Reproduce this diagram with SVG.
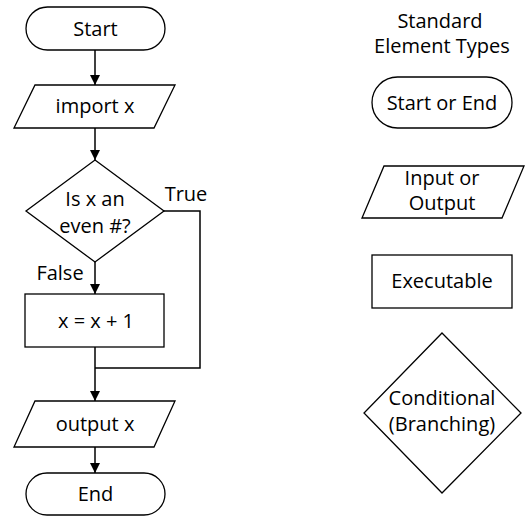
<svg xmlns="http://www.w3.org/2000/svg" width="525" height="516" viewBox="0 0 525 516">
<style>
.s{fill:#fff;stroke:#000;stroke-width:1.3}
.t{font-family:"Open Sans","Noto Sans",sans-serif;font-size:20px;fill:#000;text-anchor:middle}
.c{fill:none;stroke:#000;stroke-width:1.5}
</style>
<defs>
<marker id="ah" markerUnits="userSpaceOnUse" markerWidth="10" markerHeight="10" refX="10" refY="5" orient="auto" viewBox="0 0 10 10">
<path d="M0,0 L10,5 L0,10 z" fill="#000"/>
</marker>
</defs>
<rect width="525" height="516" fill="#fff"/>
<g id="connectors">
<path class="c" d="M95,50 V85" marker-end="url(#ah)"/>
<path class="c" d="M95,128 V160" marker-end="url(#ah)"/>
<path class="c" d="M95,262 V294" marker-end="url(#ah)"/>
<path class="c" d="M95,347 V401" marker-end="url(#ah)"/>
<path class="c" d="M164,211 H200 V368 H95"/>
<path class="c" d="M95,447 V473" marker-end="url(#ah)"/>
<text class="t" x="186" y="201">True</text>
<text class="t" x="60" y="280">False</text>
</g>
<g id="start">
<rect class="s" x="26" y="7" width="139" height="43" rx="21.5"/>
<text class="t" x="95.5" y="36">Start</text>
</g>
<g id="import">
<path class="s" d="M35,85 H175 L154,128 H14 z"/>
<text class="t" x="95" y="113">import x</text>
</g>
<g id="decision">
<path class="s" d="M95,160 L164,211 L95,262 L26,211 z"/>
<text class="t" x="95" y="206">Is x an</text>
<text class="t" x="95" y="233">even #?</text>
</g>
<g id="increment">
<rect class="s" x="25" y="294" width="139" height="53"/>
<text class="t" x="96" y="328">x = x + 1</text>
</g>
<g id="output">
<path class="s" d="M35,401 H175 L154,447 H14 z"/>
<text class="t" x="95" y="431">output x</text>
</g>
<g id="end">
<rect class="s" x="26" y="473" width="139" height="42" rx="21"/>
<text class="t" x="95.5" y="501">End</text>
</g>
<g id="legend-title">
<text class="t" x="440" y="28">Standard</text>
<text class="t" x="442" y="53">Element Types</text>
</g>
<g id="legend-terminal">
<rect class="s" x="372" y="77" width="140" height="51" rx="25.5"/>
<text class="t" x="442" y="110">Start or End</text>
</g>
<g id="legend-io">
<path class="s" d="M384,166 H524 L502,218 H362 z"/>
<text class="t" x="442" y="185">Input or</text>
<text class="t" x="442" y="210">Output</text>
</g>
<g id="legend-exec">
<rect class="s" x="372" y="255" width="140" height="53"/>
<text class="t" x="442" y="288">Executable</text>
</g>
<g id="legend-cond">
<path class="s" d="M442,333 L521,413 L442,493 L364,413 z"/>
<text class="t" x="442" y="405">Conditional</text>
<text class="t" x="442" y="431">(Branching)</text>
</g>
</svg>
